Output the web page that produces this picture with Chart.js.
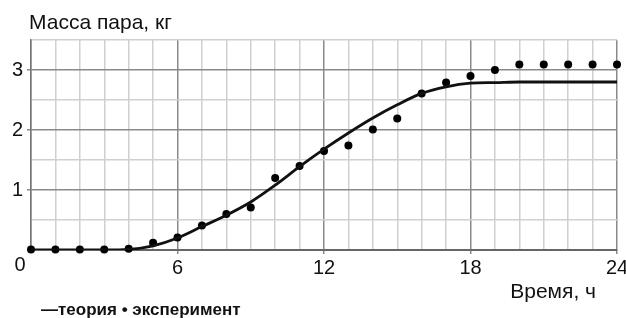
<!DOCTYPE html>
<html>
<head>
<meta charset="utf-8">
<script src="https://cdn.jsdelivr.net/npm/chart.js@4"></script>
<style>
    html, body { margin: 0; padding: 0; background: #fff; }
    #wrap { width: 626px; height: 318px; position: relative; }
</style>
</head>
<body>
<div id="wrap"><canvas id="chart"></canvas></div>
<script>
// ============================================================
// DATA
// ============================================================
const hours = [0, 1, 2, 3, 4, 5, 6, 7, 8, 9, 10, 11, 12, 13, 14, 15, 16, 17, 18, 19, 20, 21, 22, 23, 24];

// theory curve (kg)
const theory = [0, 0, 0, 0, 0.01, 0.07, 0.2, 0.39, 0.58, 0.8, 1.08, 1.39, 1.68, 1.95, 2.2, 2.42, 2.61, 2.72, 2.78, 2.79, 2.8, 2.8, 2.8, 2.8, 2.8];

// experiment points (kg)
const experiment = [0.01, 0.01, 0.01, 0.01, 0.02, 0.12, 0.21, 0.41, 0.6, 0.71, 1.2, 1.4, 1.65, 1.74, 2.01, 2.19, 2.61, 2.79, 2.9, 3.0, 3.09, 3.09, 3.09, 3.09, 3.09];

const xTickLabels = [6, 12, 18, 24];
const yTickLabels = [1, 2, 3];

const yTitle = 'Масса пара, кг';
const xTitle = 'Время, ч';
const legendText = '—теория • эксперимент';

const FONT = '"Liberation Sans", Arial, sans-serif';

// ============================================================
// TEXT PLUGIN (axis titles, origin label, legend)
// ============================================================
const labelsPlugin = {
    id: 'labels',
    afterDraw(chart) {
        const { ctx, scales } = chart;
        const x0 = scales.x.getPixelForValue(0);
        const y0 = scales.y.getPixelForValue(0);
        ctx.save();
        ctx.fillStyle = '#111';
        ctx.textBaseline = 'alphabetic';

        ctx.font = '21px ' + FONT;
        ctx.textAlign = 'left';
        ctx.fillText(yTitle, 29, 29);

        ctx.textAlign = 'right';
        ctx.fillText(xTitle, 596, 298);

        ctx.font = '20px ' + FONT;
        ctx.textAlign = 'center';
        ctx.fillText('0', x0 - 11, y0 + 21);

        ctx.font = 'bold 17px ' + FONT;
        ctx.textAlign = 'left';
        ctx.fillText(legendText, 41, 315);
        ctx.restore();
    }
};

// ============================================================
// CHART
// ============================================================
const majorGrid = '#8a8a8a';
const minorGrid = '#d0d0d0';

new Chart(document.getElementById('chart'), {
    type: 'line',
    data: {
        datasets: [
            {
                label: 'теория',
                data: hours.map((h, i) => ({ x: h, y: theory[i] })),
                borderColor: '#111',
                borderWidth: 2.8,
                pointRadius: 0,
                cubicInterpolationMode: 'monotone',
                fill: false
            },
            {
                label: 'эксперимент',
                data: hours.map((h, i) => ({ x: h, y: experiment[i] })),
                showLine: false,
                pointRadius: 4,
                pointBackgroundColor: '#000',
                pointBorderWidth: 0,
                clip: false
            }
        ]
    },
    options: {
        responsive: true,
        maintainAspectRatio: false,
        animation: false,
        layout: { padding: { top: 40, right: 9, left: 0, bottom: 0 } },
        plugins: {
            legend: { display: false },
            tooltip: { enabled: false },
            title: { display: false }
        },
        scales: {
            x: {
                type: 'linear',
                min: 0,
                max: 24,
                afterFit(scale) {
                    scale.height = 68;
                    scale.paddingLeft = 0;
                    scale.paddingRight = 0;
                },
                grid: {
                    color: c => (c.tick && c.tick.value % 6 === 0) ? majorGrid : minorGrid,
                    lineWidth: 1.5,
                    tickLength: 4,
                    tickColor: c => (c.tick && xTickLabels.includes(c.tick.value)) ? majorGrid : 'rgba(0,0,0,0)'
                },
                border: { color: '#666', width: 2 },
                ticks: {
                    stepSize: 1,
                    autoSkip: false,
                    maxRotation: 0,
                    padding: 2,
                    color: '#111',
                    font: { family: FONT, size: 20 },
                    callback: v => xTickLabels.includes(v) ? String(v) : ''
                }
            },
            y: {
                min: 0,
                max: 3.5,
                afterFit(scale) {
                    scale.width = 31;
                    scale.paddingTop = 0;
                    scale.paddingBottom = 0;
                },
                grid: {
                    color: c => (c.tick && Number.isInteger(c.tick.value)) ? majorGrid : minorGrid,
                    lineWidth: 1.5,
                    tickLength: 4,
                    tickColor: c => (c.tick && yTickLabels.includes(c.tick.value)) ? majorGrid : 'rgba(0,0,0,0)'
                },
                border: { color: '#777', width: 1.5 },
                ticks: {
                    stepSize: 0.5,
                    autoSkip: false,
                    padding: 4,
                    color: '#111',
                    font: { family: FONT, size: 20 },
                    callback: v => yTickLabels.includes(v) ? String(v) : ''
                }
            }
        }
    },
    plugins: [labelsPlugin]
});
</script>
</body>
</html>
